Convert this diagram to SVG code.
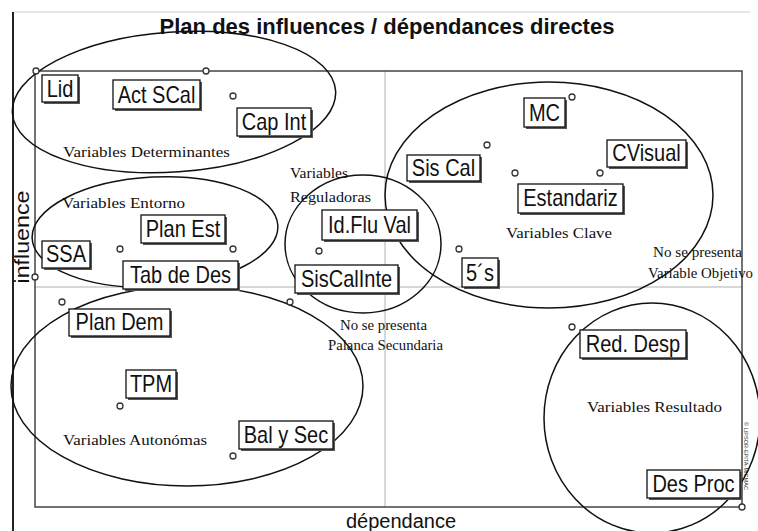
<svg xmlns="http://www.w3.org/2000/svg" width="758" height="531" viewBox="0 0 758 531">
<style>
.frame{fill:none;stroke:#444;stroke-width:1.5}
.mid{stroke:#b0b0b0;stroke-width:1}
.ell{fill:none;stroke:#111;stroke-width:1.5}
.shadow{fill:#555}
.box{fill:#fff;stroke:#111;stroke-width:1.3}
.lbl{font-family:"Liberation Sans",Arial,sans-serif;font-size:20px;fill:#111;text-anchor:middle}
.pt{fill:#fff;stroke:#333;stroke-width:1.3}
.ser{font-family:"Liberation Serif","Times New Roman",serif;font-size:15px;fill:#111}
.title{font-family:"Liberation Sans",Arial,sans-serif;font-size:22px;font-weight:bold;fill:#111;text-anchor:middle}
.axis{font-family:"Liberation Sans",Arial,sans-serif;font-size:20px;fill:#111;text-anchor:middle}
</style>
<rect width="758" height="531" fill="#fff"/>
<line x1="13" y1="12" x2="750" y2="12" stroke="#ccc" stroke-width="1"/>
<line x1="13" y1="12" x2="13" y2="531" stroke="#222" stroke-width="2"/>
<text class="title" x="387" y="34">Plan des influences / dépendances directes</text>
<g id="axes">
<line class="mid" x1="35" y1="287" x2="742" y2="287"/>
<line class="mid" x1="385" y1="71" x2="385" y2="507"/>
<rect class="frame" x="35" y="71" width="707" height="436"/>
<text class="axis" transform="translate(29,237) rotate(-90)" textLength="93" lengthAdjust="spacingAndGlyphs">influence</text>
<text class="axis" x="401" y="528">dépendance</text>
<text transform="translate(744,422) rotate(90)" font-family="Liberation Sans,sans-serif" font-size="4.5" fill="#333" textLength="68" lengthAdjust="spacingAndGlyphs">© LIPSOR-EPITA-MICMAC</text>
</g>
<g id="connectors">
<ellipse class="ell" cx="174" cy="102" rx="162" ry="70" transform="rotate(-4 174 102)"/>
<ellipse class="ell" cx="155" cy="232" rx="123" ry="55" transform="rotate(-3 155 232)"/>
<ellipse class="ell" cx="187" cy="386" rx="176" ry="100"/>
<ellipse class="ell" cx="363" cy="244" rx="78" ry="69"/>
<ellipse class="ell" cx="549" cy="195" rx="164" ry="113"/>
<ellipse class="ell" cx="652" cy="418" rx="108" ry="115"/>
</g>
<g id="zone-labels">
<text class="ser" x="63" y="157" textLength="167" lengthAdjust="spacingAndGlyphs">Variables Determinantes</text>
<text class="ser" x="62" y="208" textLength="123" lengthAdjust="spacingAndGlyphs">Variables Entorno</text>
<text class="ser" x="290" y="178" textLength="58" lengthAdjust="spacingAndGlyphs">Variables</text>
<text class="ser" x="290" y="202" textLength="81" lengthAdjust="spacingAndGlyphs">Reguladoras</text>
<text class="ser" x="506" y="238" textLength="106" lengthAdjust="spacingAndGlyphs">Variables Clave</text>
<text class="ser" x="653" y="257" textLength="89" lengthAdjust="spacingAndGlyphs">No se presenta</text>
<text class="ser" x="648" y="278" textLength="105" lengthAdjust="spacingAndGlyphs">Variable Objetivo</text>
<text class="ser" x="340" y="330" textLength="87" lengthAdjust="spacingAndGlyphs">No se presenta</text>
<text class="ser" x="328" y="350" textLength="115" lengthAdjust="spacingAndGlyphs">Palanca Secundaria</text>
<text class="ser" x="587" y="412" textLength="135" lengthAdjust="spacingAndGlyphs">Variables Resultado</text>
<text class="ser" x="63" y="445" textLength="144" lengthAdjust="spacingAndGlyphs">Variables Autonómas</text>
</g>
<g id="n-lid"><rect class="shadow" x="44" y="77" width="36" height="27"/><rect class="box" x="42" y="75" width="36" height="27"/><text class="lbl" transform="translate(60,97) scale(1,1.2)">Lid</text><circle class="pt" cx="36" cy="71" r="3"/></g>
<g id="n-actscal"><rect class="shadow" x="115" y="82" width="87" height="29"/><rect class="box" x="113" y="80" width="87" height="29"/><text class="lbl" transform="translate(156.5,103) scale(1,1.2)">Act SCal</text><circle class="pt" cx="206" cy="71" r="3"/></g>
<g id="n-capint"><rect class="shadow" x="239" y="110" width="74" height="28"/><rect class="box" x="237" y="108" width="74" height="28"/><text class="lbl" transform="translate(274,130) scale(1,1.2)">Cap Int</text><circle class="pt" cx="233" cy="96" r="3"/></g>
<g id="n-planest"><rect class="shadow" x="143" y="217" width="84" height="28"/><rect class="box" x="141" y="215" width="84" height="28"/><text class="lbl" transform="translate(183,237) scale(1,1.2)">Plan Est</text><circle class="pt" cx="233" cy="249" r="3"/></g>
<g id="n-ssa"><rect class="shadow" x="44" y="243" width="48" height="27"/><rect class="box" x="42" y="241" width="48" height="27"/><text class="lbl" transform="translate(66,262) scale(1,1.2)">SSA</text><circle class="pt" cx="35" cy="277" r="3"/></g>
<g id="n-tabdedes"><rect class="shadow" x="125" y="263" width="115" height="28"/><rect class="box" x="123" y="261" width="115" height="28"/><text class="lbl" transform="translate(180.5,283) scale(1,1.2)">Tab de Des</text><circle class="pt" cx="120" cy="249" r="3"/></g>
<g id="n-plandem"><rect class="shadow" x="71" y="311" width="101" height="27"/><rect class="box" x="69" y="309" width="101" height="27"/><text class="lbl" transform="translate(119.5,330) scale(1,1.2)">Plan Dem</text><circle class="pt" cx="62" cy="302" r="3"/></g>
<g id="n-idfluval"><rect class="shadow" x="324" y="212" width="95" height="30"/><rect class="box" x="322" y="210" width="95" height="30"/><text class="lbl" transform="translate(369.5,233) scale(1,1.2)">Id.Flu Val</text><circle class="pt" cx="319" cy="251" r="3"/></g>
<g id="n-siscalinte"><rect class="shadow" x="297" y="267" width="103" height="28"/><rect class="box" x="295" y="265" width="103" height="28"/><text class="lbl" transform="translate(346.5,287) scale(1,1.2)">SisCalInte</text><circle class="pt" cx="290" cy="302" r="3"/></g>
<g id="n-siscal"><rect class="shadow" x="409" y="157" width="73" height="26"/><rect class="box" x="407" y="155" width="73" height="26"/><text class="lbl" transform="translate(443.5,176) scale(1,1.2)">Sis Cal</text><circle class="pt" cx="487" cy="145" r="3"/></g>
<g id="n-mc"><rect class="shadow" x="526" y="100" width="41" height="29"/><rect class="box" x="524" y="98" width="41" height="29"/><text class="lbl" transform="translate(544.5,121) scale(1,1.2)">MC</text><circle class="pt" cx="572" cy="97" r="3"/></g>
<g id="n-cvisual"><rect class="shadow" x="609" y="142" width="79" height="27"/><rect class="box" x="607" y="140" width="79" height="27"/><text class="lbl" transform="translate(646.5,161) scale(1,1.2)">CVisual</text><circle class="pt" cx="600" cy="173" r="3"/></g>
<g id="n-estandariz"><rect class="shadow" x="520" y="186" width="105" height="29"/><rect class="box" x="518" y="184" width="105" height="29"/><text class="lbl" transform="translate(570.5,206) scale(1,1.2)">Estandariz</text><circle class="pt" cx="515" cy="173" r="3"/></g>
<g id="n-5s"><rect class="shadow" x="464" y="260" width="36" height="29"/><rect class="box" x="462" y="258" width="36" height="29"/><text class="lbl" transform="translate(480,281) scale(1,1.2)">5´s</text><circle class="pt" cx="459" cy="249" r="3"/></g>
<g id="n-reddesp"><rect class="shadow" x="582" y="332" width="106" height="28"/><rect class="box" x="580" y="330" width="106" height="28"/><text class="lbl" transform="translate(633,352) scale(1,1.2)">Red. Desp</text><circle class="pt" cx="572" cy="327" r="3"/></g>
<g id="n-desproc"><rect class="shadow" x="649" y="472" width="93" height="28"/><rect class="box" x="647" y="470" width="93" height="28"/><text class="lbl" transform="translate(693.5,492) scale(1,1.2)">Des Proc</text><circle class="pt" cx="742" cy="507" r="3"/></g>
<g id="n-tpm"><rect class="shadow" x="128" y="372" width="50" height="28"/><rect class="box" x="126" y="370" width="50" height="28"/><text class="lbl" transform="translate(151,392) scale(1,1.2)">TPM</text><circle class="pt" cx="120" cy="406" r="3"/></g>
<g id="n-balysec"><rect class="shadow" x="241" y="423" width="94" height="28"/><rect class="box" x="239" y="421" width="94" height="28"/><text class="lbl" transform="translate(286,443) scale(1,1.2)">Bal y Sec</text><circle class="pt" cx="233" cy="456" r="3"/></g>
</svg>
